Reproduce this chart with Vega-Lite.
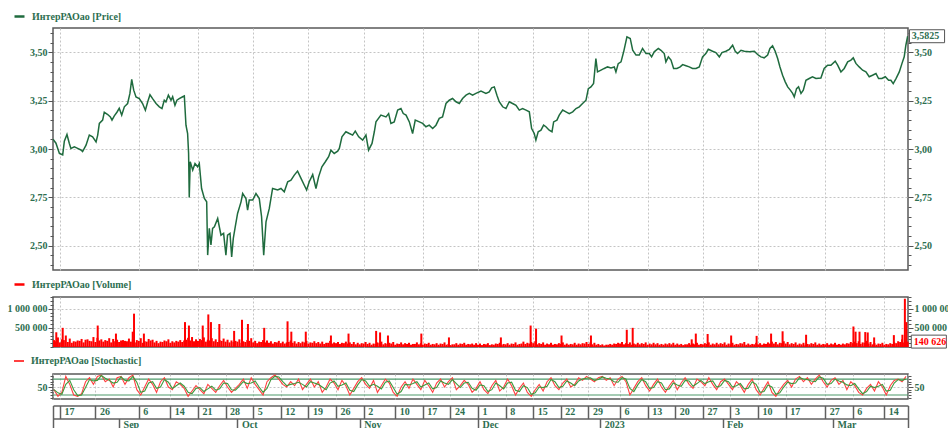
{
"$schema":"https://vega.github.io/schema/vega-lite/v6.json",
"background":"white",
"padding":{"left":6,"top":9,"right":0,"bottom":0},
"autosize":{"type":"pad"},
"config":{
 "view":{"stroke":"#5a5a5a","strokeWidth":1.5},
 "font":"Liberation Serif",
 "axis":{"labelFont":"Liberation Serif","labelFontWeight":"bold","labelFontSize":10,"labelColor":"#2d6e50","tickColor":"#555555","domainColor":"#555555","labelOverlap":false,"labelFlush":false,"labelBound":false},
 "legend":{"labelFont":"Liberation Serif","labelFontWeight":"bold","labelFontSize":10,"labelColor":"#2d6e50"}
},
"datasets":{
"price":[
{"t":"2022-08-15T06:00","v":3.051},{"t":"2022-08-16T00:00","v":3.03},{"t":"2022-08-16T21:00","v":2.977},{"t":"2022-08-17T17:00","v":2.97},{"t":"2022-08-18T03:00","v":3.04},{"t":"2022-08-18T19:00","v":3.075},{"t":"2022-08-19T09:00","v":3.03},{"t":"2022-08-19T19:00","v":3.003},{"t":"2022-08-20T16:00","v":3.011},{"t":"2022-08-21T12:00","v":3.003},{"t":"2022-08-22T08:00","v":2.995},{"t":"2022-08-22T18:00","v":2.987},{"t":"2022-08-23T15:00","v":3.02},{"t":"2022-08-24T11:00","v":3.072},{"t":"2022-08-25T07:00","v":3.063},{"t":"2022-08-26T04:00","v":3.037},{"t":"2022-08-26T14:00","v":3.072},{"t":"2022-08-27T00:00","v":3.132},{"t":"2022-08-27T20:00","v":3.149},{"t":"2022-08-28T06:00","v":3.19},{"t":"2022-08-29T03:00","v":3.178},{"t":"2022-08-29T19:00","v":3.166},{"t":"2022-08-30T05:00","v":3.149},{"t":"2022-08-30T19:00","v":3.171},{"t":"2022-08-31T11:00","v":3.19},
{"t":"2022-09-01T01:00","v":3.21},{"t":"2022-09-01T16:00","v":3.175},{"t":"2022-09-02T08:00","v":3.218},{"t":"2022-09-03T04:00","v":3.235},{"t":"2022-09-03T18:00","v":3.287},{"t":"2022-09-04T05:00","v":3.36},{"t":"2022-09-04T17:00","v":3.304},{"t":"2022-09-05T07:00","v":3.269},{"t":"2022-09-06T03:00","v":3.261},{"t":"2022-09-06T23:00","v":3.235},{"t":"2022-09-07T16:00","v":3.2},{"t":"2022-09-08T06:00","v":3.243},{"t":"2022-09-08T20:00","v":3.28},{"t":"2022-09-09T12:00","v":3.26},{"t":"2022-09-10T09:00","v":3.235},{"t":"2022-09-11T05:00","v":3.218},{"t":"2022-09-11T21:00","v":3.209},{"t":"2022-09-12T11:00","v":3.252},{"t":"2022-09-12T21:00","v":3.243},{"t":"2022-09-13T12:00","v":3.278},{"t":"2022-09-14T04:00","v":3.252},{"t":"2022-09-14T14:00","v":3.27},{"t":"2022-09-15T04:00","v":3.226},{"t":"2022-09-15T16:00","v":3.252},{"t":"2022-09-16T06:00","v":3.26},{"t":"2022-09-17T03:00","v":3.27},{"t":"2022-09-17T13:00","v":3.274},{"t":"2022-09-17T23:00","v":3.123},{"t":"2022-09-18T09:00","v":3.08},{"t":"2022-09-18T15:00","v":2.977},{"t":"2022-09-18T19:00","v":2.75},{"t":"2022-09-19T01:00","v":2.934},{"t":"2022-09-19T16:00","v":2.891},{"t":"2022-09-20T06:00","v":2.925},{"t":"2022-09-20T22:00","v":2.908},{"t":"2022-09-21T08:00","v":2.925},{"t":"2022-09-21T22:00","v":2.796},{"t":"2022-09-22T15:00","v":2.745},{"t":"2022-09-23T05:00","v":2.727},{"t":"2022-09-23T11:00","v":2.452},{"t":"2022-09-23T21:00","v":2.59},{"t":"2022-09-24T07:00","v":2.504},{"t":"2022-09-24T17:00","v":2.59},{"t":"2022-09-25T04:00","v":2.598},{"t":"2022-09-26T00:00","v":2.641},{"t":"2022-09-26T20:00","v":2.555},{"t":"2022-09-27T12:00","v":2.564},{"t":"2022-09-28T02:00","v":2.452},{"t":"2022-09-28T12:00","v":2.555},{"t":"2022-09-29T03:00","v":2.564},{"t":"2022-09-29T13:00","v":2.443},{"t":"2022-09-29T23:00","v":2.538},{"t":"2022-09-30T11:00","v":2.599},
{"t":"2022-10-01T01:00","v":2.667},{"t":"2022-10-01T22:00","v":2.727},{"t":"2022-10-02T08:00","v":2.77},{"t":"2022-10-03T04:00","v":2.744},{"t":"2022-10-03T14:00","v":2.684},{"t":"2022-10-04T00:00","v":2.736},{"t":"2022-10-04T21:00","v":2.736},{"t":"2022-10-05T17:00","v":2.77},{"t":"2022-10-06T13:00","v":2.744},{"t":"2022-10-07T03:00","v":2.65},{"t":"2022-10-07T16:00","v":2.452},{"t":"2022-10-08T06:00","v":2.624},{"t":"2022-10-09T02:00","v":2.693},{"t":"2022-10-09T22:00","v":2.796},{"t":"2022-10-11T05:00","v":2.788},{"t":"2022-10-12T01:00","v":2.796},{"t":"2022-10-12T21:00","v":2.779},{"t":"2022-10-13T18:00","v":2.831},{"t":"2022-10-14T14:00","v":2.839},{"t":"2022-10-15T10:00","v":2.865},{"t":"2022-10-16T06:00","v":2.886},{"t":"2022-10-17T03:00","v":2.848},{"t":"2022-10-17T23:00","v":2.813},{"t":"2022-10-18T13:00","v":2.788},{"t":"2022-10-19T05:00","v":2.831},{"t":"2022-10-20T02:00","v":2.868},{"t":"2022-10-20T22:00","v":2.796},{"t":"2022-10-21T14:00","v":2.856},{"t":"2022-10-22T10:00","v":2.908},{"t":"2022-10-23T07:00","v":2.934},{"t":"2022-10-24T03:00","v":2.96},{"t":"2022-10-24T17:00","v":2.994},{"t":"2022-10-25T13:00","v":2.977},{"t":"2022-10-26T10:00","v":2.989},{"t":"2022-10-26T20:00","v":3.003},{"t":"2022-10-27T12:00","v":3.063},{"t":"2022-10-28T12:00","v":3.089},{"t":"2022-10-29T09:00","v":3.08},{"t":"2022-10-30T05:00","v":3.072},{"t":"2022-10-30T21:00","v":3.092},{"t":"2022-10-31T18:00","v":3.063},
{"t":"2022-11-01T18:00","v":3.046},{"t":"2022-11-02T14:00","v":3.072},{"t":"2022-11-03T06:00","v":2.994},{"t":"2022-11-04T03:00","v":3.029},{"t":"2022-11-04T17:00","v":3.089},{"t":"2022-11-05T03:00","v":3.14},{"t":"2022-11-06T09:00","v":3.175},{"t":"2022-11-07T16:00","v":3.166},{"t":"2022-11-08T08:00","v":3.183},{"t":"2022-11-08T22:00","v":3.132},{"t":"2022-11-09T18:00","v":3.14},{"t":"2022-11-10T15:00","v":3.201},{"t":"2022-11-11T11:00","v":3.209},{"t":"2022-11-12T01:00","v":3.183},{"t":"2022-11-12T18:00","v":3.175},{"t":"2022-11-13T14:00","v":3.14},{"t":"2022-11-14T10:00","v":3.08},{"t":"2022-11-15T02:00","v":3.149},{"t":"2022-11-16T03:00","v":3.14},{"t":"2022-11-16T23:00","v":3.132},{"t":"2022-11-17T19:00","v":3.115},{"t":"2022-11-18T15:00","v":3.123},{"t":"2022-11-19T12:00","v":3.106},{"t":"2022-11-20T08:00","v":3.123},{"t":"2022-11-21T04:00","v":3.158},{"t":"2022-11-22T00:00","v":3.166},{"t":"2022-11-22T21:00","v":3.235},{"t":"2022-11-23T17:00","v":3.252},{"t":"2022-11-24T13:00","v":3.261},{"t":"2022-11-25T10:00","v":3.244},{"t":"2022-11-26T06:00","v":3.235},{"t":"2022-11-27T02:00","v":3.261},{"t":"2022-11-27T23:00","v":3.278},{"t":"2022-11-28T19:00","v":3.287},{"t":"2022-11-29T15:00","v":3.278},{"t":"2022-11-30T11:00","v":3.287},
{"t":"2022-12-01T18:00","v":3.299},{"t":"2022-12-03T00:00","v":3.287},{"t":"2022-12-03T20:00","v":3.295},{"t":"2022-12-04T11:00","v":3.316},{"t":"2022-12-05T03:00","v":3.321},{"t":"2022-12-05T19:00","v":3.278},{"t":"2022-12-06T09:00","v":3.244},{"t":"2022-12-07T06:00","v":3.218},{"t":"2022-12-08T02:00","v":3.209},{"t":"2022-12-08T22:00","v":3.244},{"t":"2022-12-09T18:00","v":3.235},{"t":"2022-12-10T15:00","v":3.226},{"t":"2022-12-11T11:00","v":3.201},{"t":"2022-12-12T07:00","v":3.209},{"t":"2022-12-13T04:00","v":3.201},{"t":"2022-12-14T00:00","v":3.192},{"t":"2022-12-14T14:00","v":3.106},{"t":"2022-12-15T06:00","v":3.08},{"t":"2022-12-15T16:00","v":3.046},{"t":"2022-12-16T06:00","v":3.089},{"t":"2022-12-16T23:00","v":3.097},{"t":"2022-12-17T15:00","v":3.123},{"t":"2022-12-18T05:00","v":3.115},{"t":"2022-12-19T01:00","v":3.097},{"t":"2022-12-19T18:00","v":3.089},{"t":"2022-12-20T04:00","v":3.14},{"t":"2022-12-21T00:00","v":3.149},{"t":"2022-12-21T14:00","v":3.175},{"t":"2022-12-22T11:00","v":3.201},{"t":"2022-12-23T07:00","v":3.192},{"t":"2022-12-24T03:00","v":3.183},{"t":"2022-12-25T00:00","v":3.192},{"t":"2022-12-25T20:00","v":3.209},{"t":"2022-12-26T16:00","v":3.218},{"t":"2022-12-27T12:00","v":3.235},{"t":"2022-12-28T09:00","v":3.252},{"t":"2022-12-28T23:00","v":3.312},{"t":"2022-12-29T15:00","v":3.321},{"t":"2022-12-30T07:00","v":3.338},{"t":"2022-12-30T21:00","v":3.467},{"t":"2022-12-31T07:00","v":3.398},
{"t":"2023-01-01T04:00","v":3.407},{"t":"2023-01-02T00:00","v":3.416},{"t":"2023-01-02T20:00","v":3.424},{"t":"2023-01-03T17:00","v":3.419},{"t":"2023-01-04T13:00","v":3.424},{"t":"2023-01-04T23:00","v":3.398},{"t":"2023-01-05T13:00","v":3.441},{"t":"2023-01-06T06:00","v":3.45},{"t":"2023-01-06T22:00","v":3.502},{"t":"2023-01-07T18:00","v":3.579},{"t":"2023-01-08T14:00","v":3.571},{"t":"2023-01-09T05:00","v":3.51},{"t":"2023-01-10T01:00","v":3.485},{"t":"2023-01-10T21:00","v":3.485},{"t":"2023-01-11T17:00","v":3.519},{"t":"2023-01-12T14:00","v":3.493},{"t":"2023-01-13T10:00","v":3.493},{"t":"2023-01-14T00:00","v":3.476},{"t":"2023-01-14T16:00","v":3.502},{"t":"2023-01-15T17:00","v":3.519},{"t":"2023-01-16T09:00","v":3.51},{"t":"2023-01-17T05:00","v":3.493},{"t":"2023-01-17T15:00","v":3.45},{"t":"2023-01-18T06:00","v":3.476},{"t":"2023-01-18T22:00","v":3.459},{"t":"2023-01-19T14:00","v":3.416},{"t":"2023-01-20T10:00","v":3.416},{"t":"2023-01-21T06:00","v":3.424},{"t":"2023-01-21T21:00","v":3.436},{"t":"2023-01-22T17:00","v":3.43},{"t":"2023-01-23T13:00","v":3.424},{"t":"2023-01-24T09:00","v":3.416},{"t":"2023-01-25T06:00","v":3.416},{"t":"2023-01-26T02:00","v":3.424},{"t":"2023-01-26T22:00","v":3.476},{"t":"2023-01-27T18:00","v":3.493},{"t":"2023-01-28T09:00","v":3.515},{"t":"2023-01-29T11:00","v":3.505},{"t":"2023-01-30T07:00","v":3.498},{"t":"2023-01-31T04:00","v":3.476},{"t":"2023-01-31T20:00","v":3.498},
{"t":"2023-02-01T20:00","v":3.505},{"t":"2023-02-02T17:00","v":3.515},{"t":"2023-02-03T13:00","v":3.536},{"t":"2023-02-04T05:00","v":3.505},{"t":"2023-02-04T19:00","v":3.493},{"t":"2023-02-05T16:00","v":3.51},{"t":"2023-02-06T12:00","v":3.505},{"t":"2023-02-07T18:00","v":3.502},{"t":"2023-02-09T01:00","v":3.505},{"t":"2023-02-09T21:00","v":3.488},{"t":"2023-02-10T17:00","v":3.476},{"t":"2023-02-11T13:00","v":3.471},{"t":"2023-02-12T10:00","v":3.485},{"t":"2023-02-13T00:00","v":3.519},{"t":"2023-02-13T16:00","v":3.533},{"t":"2023-02-14T08:00","v":3.505},{"t":"2023-02-14T23:00","v":3.467},{"t":"2023-02-15T13:00","v":3.424},{"t":"2023-02-16T05:00","v":3.381},{"t":"2023-02-16T21:00","v":3.347},{"t":"2023-02-17T12:00","v":3.321},{"t":"2023-02-18T04:00","v":3.304},{"t":"2023-02-18T18:00","v":3.287},{"t":"2023-02-19T04:00","v":3.269},{"t":"2023-02-19T18:00","v":3.312},{"t":"2023-02-20T06:00","v":3.321},{"t":"2023-02-20T21:00","v":3.287},{"t":"2023-02-21T11:00","v":3.304},{"t":"2023-02-22T03:00","v":3.355},{"t":"2023-02-22T23:00","v":3.364},{"t":"2023-02-23T19:00","v":3.373},{"t":"2023-02-24T16:00","v":3.364},{"t":"2023-02-25T22:00","v":3.367},{"t":"2023-02-26T18:00","v":3.416},{"t":"2023-02-27T15:00","v":3.433},{"t":"2023-02-28T11:00","v":3.433},
{"t":"2023-03-01T13:00","v":3.454},{"t":"2023-03-02T04:00","v":3.433},{"t":"2023-03-03T00:00","v":3.398},{"t":"2023-03-03T20:00","v":3.416},{"t":"2023-03-04T17:00","v":3.45},{"t":"2023-03-05T13:00","v":3.459},{"t":"2023-03-06T03:00","v":3.471},{"t":"2023-03-06T19:00","v":3.442},{"t":"2023-03-07T15:00","v":3.424},{"t":"2023-03-08T12:00","v":3.407},{"t":"2023-03-09T08:00","v":3.398},{"t":"2023-03-10T04:00","v":3.373},{"t":"2023-03-11T00:00","v":3.381},{"t":"2023-03-11T21:00","v":3.39},{"t":"2023-03-12T13:00","v":3.364},{"t":"2023-03-13T09:00","v":3.364},{"t":"2023-03-14T06:00","v":3.373},{"t":"2023-03-15T02:00","v":3.355},{"t":"2023-03-15T16:00","v":3.355},{"t":"2023-03-16T06:00","v":3.338},{"t":"2023-03-16T23:00","v":3.364},{"t":"2023-03-17T19:00","v":3.398},{"t":"2023-03-18T11:00","v":3.441},{"t":"2023-03-19T01:00","v":3.476},{"t":"2023-03-19T11:00","v":3.536},{"t":"2023-03-19T22:00","v":3.5825}
],
"vol":[
{"t":"2022-08-15T12:00","v":180000},{"t":"2022-08-16T12:00","v":250000},{"t":"2022-08-17T12:00","v":200000},{"t":"2022-08-18T12:00","v":300000},{"t":"2022-08-19T12:00","v":220000},{"t":"2022-08-20T12:00","v":150000},{"t":"2022-08-21T12:00","v":170000},{"t":"2022-08-22T12:00","v":210000},{"t":"2022-08-23T12:00","v":190000},{"t":"2022-08-24T12:00","v":160000},{"t":"2022-08-25T12:00","v":260000},{"t":"2022-08-26T12:00","v":240000},{"t":"2022-08-27T12:00","v":200000},{"t":"2022-08-28T12:00","v":180000},{"t":"2022-08-29T12:00","v":230000},{"t":"2022-08-30T12:00","v":210000},{"t":"2022-08-31T12:00","v":190000},
{"t":"2022-09-01T12:00","v":170000},{"t":"2022-09-02T12:00","v":160000},{"t":"2022-09-03T12:00","v":220000},{"t":"2022-09-04T12:00","v":200000},{"t":"2022-09-05T12:00","v":180000},{"t":"2022-09-06T12:00","v":230000},{"t":"2022-09-07T12:00","v":150000},{"t":"2022-09-08T12:00","v":210000},{"t":"2022-09-09T12:00","v":190000},{"t":"2022-09-10T12:00","v":160000},{"t":"2022-09-11T12:00","v":140000},{"t":"2022-09-12T12:00","v":170000},{"t":"2022-09-13T12:00","v":200000},{"t":"2022-09-14T12:00","v":150000},{"t":"2022-09-15T12:00","v":160000},{"t":"2022-09-16T12:00","v":180000},{"t":"2022-09-17T12:00","v":170000},{"t":"2022-09-18T12:00","v":240000},{"t":"2022-09-19T12:00","v":260000},{"t":"2022-09-20T12:00","v":200000},{"t":"2022-09-21T12:00","v":210000},{"t":"2022-09-22T12:00","v":250000},{"t":"2022-09-23T12:00","v":190000},{"t":"2022-09-24T12:00","v":230000},{"t":"2022-09-25T12:00","v":200000},{"t":"2022-09-26T12:00","v":180000},{"t":"2022-09-27T12:00","v":220000},{"t":"2022-09-28T12:00","v":190000},{"t":"2022-09-29T12:00","v":170000},{"t":"2022-09-30T12:00","v":160000},
{"t":"2022-10-01T12:00","v":200000},{"t":"2022-10-02T12:00","v":150000},{"t":"2022-10-03T12:00","v":180000},{"t":"2022-10-04T12:00","v":230000},{"t":"2022-10-05T12:00","v":160000},{"t":"2022-10-06T12:00","v":140000},{"t":"2022-10-07T12:00","v":180000},{"t":"2022-10-08T12:00","v":170000},{"t":"2022-10-09T12:00","v":150000},{"t":"2022-10-10T12:00","v":130000},{"t":"2022-10-11T12:00","v":160000},{"t":"2022-10-12T12:00","v":140000},{"t":"2022-10-13T12:00","v":120000},{"t":"2022-10-14T12:00","v":170000},{"t":"2022-10-15T12:00","v":150000},{"t":"2022-10-16T12:00","v":130000},{"t":"2022-10-17T12:00","v":140000},{"t":"2022-10-18T12:00","v":160000},{"t":"2022-10-19T12:00","v":120000},{"t":"2022-10-20T12:00","v":150000},{"t":"2022-10-21T12:00","v":130000},{"t":"2022-10-22T12:00","v":140000},{"t":"2022-10-23T12:00","v":110000},{"t":"2022-10-24T12:00","v":160000},{"t":"2022-10-25T12:00","v":120000},{"t":"2022-10-26T12:00","v":130000},{"t":"2022-10-27T12:00","v":110000},{"t":"2022-10-28T12:00","v":140000},{"t":"2022-10-29T12:00","v":120000},{"t":"2022-10-30T12:00","v":130000},{"t":"2022-10-31T12:00","v":110000},
{"t":"2022-11-01T12:00","v":100000},{"t":"2022-11-02T12:00","v":130000},{"t":"2022-11-03T12:00","v":110000},{"t":"2022-11-04T12:00","v":90000},{"t":"2022-11-05T12:00","v":120000},{"t":"2022-11-06T12:00","v":140000},{"t":"2022-11-07T12:00","v":100000},{"t":"2022-11-08T12:00","v":110000},{"t":"2022-11-09T12:00","v":130000},{"t":"2022-11-10T12:00","v":90000},{"t":"2022-11-11T12:00","v":120000},{"t":"2022-11-12T12:00","v":100000},{"t":"2022-11-13T12:00","v":110000},{"t":"2022-11-14T12:00","v":80000},{"t":"2022-11-15T12:00","v":120000},{"t":"2022-11-16T12:00","v":100000},{"t":"2022-11-17T12:00","v":90000},{"t":"2022-11-18T12:00","v":110000},{"t":"2022-11-19T12:00","v":80000},{"t":"2022-11-20T12:00","v":100000},{"t":"2022-11-21T12:00","v":90000},{"t":"2022-11-22T12:00","v":120000},{"t":"2022-11-23T12:00","v":80000},{"t":"2022-11-24T12:00","v":70000},{"t":"2022-11-25T12:00","v":100000},{"t":"2022-11-26T12:00","v":90000},{"t":"2022-11-27T12:00","v":110000},{"t":"2022-11-28T12:00","v":80000},{"t":"2022-11-29T12:00","v":90000},{"t":"2022-11-30T12:00","v":100000},
{"t":"2022-12-01T12:00","v":90000},{"t":"2022-12-02T12:00","v":80000},{"t":"2022-12-03T12:00","v":100000},{"t":"2022-12-04T12:00","v":70000},{"t":"2022-12-05T12:00","v":90000},{"t":"2022-12-06T12:00","v":110000},{"t":"2022-12-07T12:00","v":80000},{"t":"2022-12-08T12:00","v":100000},{"t":"2022-12-09T12:00","v":90000},{"t":"2022-12-10T12:00","v":120000},{"t":"2022-12-11T12:00","v":80000},{"t":"2022-12-12T12:00","v":140000},{"t":"2022-12-13T12:00","v":110000},{"t":"2022-12-14T12:00","v":130000},{"t":"2022-12-15T12:00","v":150000},{"t":"2022-12-16T12:00","v":100000},{"t":"2022-12-17T12:00","v":120000},{"t":"2022-12-18T12:00","v":90000},{"t":"2022-12-19T12:00","v":110000},{"t":"2022-12-20T12:00","v":80000},{"t":"2022-12-21T12:00","v":100000},{"t":"2022-12-22T12:00","v":120000},{"t":"2022-12-23T12:00","v":90000},{"t":"2022-12-24T12:00","v":80000},{"t":"2022-12-25T12:00","v":110000},{"t":"2022-12-26T12:00","v":90000},{"t":"2022-12-27T12:00","v":100000},{"t":"2022-12-28T12:00","v":130000},{"t":"2022-12-29T12:00","v":120000},{"t":"2022-12-30T12:00","v":110000},{"t":"2022-12-31T12:00","v":80000},
{"t":"2023-01-01T12:00","v":70000},{"t":"2023-01-02T12:00","v":60000},{"t":"2023-01-03T12:00","v":80000},{"t":"2023-01-04T12:00","v":90000},{"t":"2023-01-05T12:00","v":110000},{"t":"2023-01-06T12:00","v":130000},{"t":"2023-01-07T12:00","v":100000},{"t":"2023-01-08T12:00","v":120000},{"t":"2023-01-09T12:00","v":90000},{"t":"2023-01-10T12:00","v":110000},{"t":"2023-01-11T12:00","v":100000},{"t":"2023-01-12T12:00","v":120000},{"t":"2023-01-13T12:00","v":90000},{"t":"2023-01-14T12:00","v":110000},{"t":"2023-01-15T12:00","v":100000},{"t":"2023-01-16T12:00","v":80000},{"t":"2023-01-17T12:00","v":90000},{"t":"2023-01-18T12:00","v":100000},{"t":"2023-01-19T12:00","v":110000},{"t":"2023-01-20T12:00","v":90000},{"t":"2023-01-21T12:00","v":80000},{"t":"2023-01-22T12:00","v":70000},{"t":"2023-01-23T12:00","v":100000},{"t":"2023-01-24T12:00","v":90000},{"t":"2023-01-25T12:00","v":110000},{"t":"2023-01-26T12:00","v":80000},{"t":"2023-01-27T12:00","v":100000},{"t":"2023-01-28T12:00","v":120000},{"t":"2023-01-29T12:00","v":90000},{"t":"2023-01-30T12:00","v":110000},{"t":"2023-01-31T12:00","v":100000},
{"t":"2023-02-01T12:00","v":120000},{"t":"2023-02-02T12:00","v":90000},{"t":"2023-02-03T12:00","v":110000},{"t":"2023-02-04T12:00","v":80000},{"t":"2023-02-05T12:00","v":100000},{"t":"2023-02-06T12:00","v":130000},{"t":"2023-02-07T12:00","v":90000},{"t":"2023-02-08T12:00","v":80000},{"t":"2023-02-09T12:00","v":110000},{"t":"2023-02-10T12:00","v":100000},{"t":"2023-02-11T12:00","v":90000},{"t":"2023-02-12T12:00","v":120000},{"t":"2023-02-13T12:00","v":140000},{"t":"2023-02-14T12:00","v":130000},{"t":"2023-02-15T12:00","v":110000},{"t":"2023-02-16T12:00","v":150000},{"t":"2023-02-17T12:00","v":130000},{"t":"2023-02-18T12:00","v":100000},{"t":"2023-02-19T12:00","v":120000},{"t":"2023-02-20T12:00","v":90000},{"t":"2023-02-21T12:00","v":110000},{"t":"2023-02-22T12:00","v":80000},{"t":"2023-02-23T12:00","v":100000},{"t":"2023-02-24T12:00","v":120000},{"t":"2023-02-25T12:00","v":90000},{"t":"2023-02-26T12:00","v":80000},{"t":"2023-02-27T12:00","v":100000},{"t":"2023-02-28T12:00","v":90000},
{"t":"2023-03-01T12:00","v":110000},{"t":"2023-03-02T12:00","v":80000},{"t":"2023-03-03T12:00","v":90000},{"t":"2023-03-04T12:00","v":100000},{"t":"2023-03-05T12:00","v":130000},{"t":"2023-03-06T12:00","v":140000},{"t":"2023-03-07T12:00","v":150000},{"t":"2023-03-08T12:00","v":120000},{"t":"2023-03-09T12:00","v":160000},{"t":"2023-03-10T12:00","v":130000},{"t":"2023-03-11T12:00","v":100000},{"t":"2023-03-12T12:00","v":90000},{"t":"2023-03-13T12:00","v":110000},{"t":"2023-03-14T12:00","v":80000},{"t":"2023-03-15T12:00","v":100000},{"t":"2023-03-16T12:00","v":120000},{"t":"2023-03-17T12:00","v":150000},{"t":"2023-03-18T12:00","v":200000},{"t":"2023-03-19T08:00","v":170000},
{"t":"2022-08-16T00:00","v":150000},{"t":"2022-08-17T00:00","v":120000},{"t":"2022-08-18T00:00","v":180000},{"t":"2022-08-19T00:00","v":130000},{"t":"2022-08-20T00:00","v":110000},{"t":"2022-08-21T00:00","v":140000},{"t":"2022-08-22T00:00","v":160000},{"t":"2022-08-23T00:00","v":120000},{"t":"2022-08-24T00:00","v":200000},{"t":"2022-08-25T00:00","v":150000},{"t":"2022-08-26T00:00","v":130000},{"t":"2022-08-27T00:00","v":170000},{"t":"2022-08-28T00:00","v":140000},{"t":"2022-08-29T00:00","v":160000},{"t":"2022-08-30T00:00","v":120000},{"t":"2022-08-31T00:00","v":150000},
{"t":"2022-09-01T00:00","v":130000},{"t":"2022-09-02T00:00","v":180000},{"t":"2022-09-03T00:00","v":150000},{"t":"2022-09-04T00:00","v":140000},{"t":"2022-09-05T00:00","v":120000},{"t":"2022-09-06T00:00","v":160000},{"t":"2022-09-07T00:00","v":110000},{"t":"2022-09-08T00:00","v":140000},{"t":"2022-09-09T00:00","v":170000},{"t":"2022-09-10T00:00","v":120000},{"t":"2022-09-11T00:00","v":100000},{"t":"2022-09-12T00:00","v":130000},{"t":"2022-09-13T00:00","v":150000},{"t":"2022-09-14T00:00","v":110000},{"t":"2022-09-15T00:00","v":120000},{"t":"2022-09-16T00:00","v":140000},{"t":"2022-09-17T00:00","v":130000},{"t":"2022-09-18T00:00","v":190000},{"t":"2022-09-19T00:00","v":170000},{"t":"2022-09-20T00:00","v":150000},{"t":"2022-09-21T00:00","v":160000},{"t":"2022-09-22T00:00","v":180000},{"t":"2022-09-23T00:00","v":140000},{"t":"2022-09-24T00:00","v":170000},{"t":"2022-09-25T00:00","v":150000},{"t":"2022-09-26T00:00","v":130000},{"t":"2022-09-27T00:00","v":160000},{"t":"2022-09-28T00:00","v":140000},{"t":"2022-09-29T00:00","v":120000},{"t":"2022-09-30T00:00","v":130000},
{"t":"2022-10-01T00:00","v":140000},{"t":"2022-10-02T00:00","v":110000},{"t":"2022-10-03T00:00","v":130000},{"t":"2022-10-04T00:00","v":160000},{"t":"2022-10-05T00:00","v":120000},{"t":"2022-10-06T00:00","v":100000},{"t":"2022-10-07T00:00","v":130000},{"t":"2022-10-08T00:00","v":120000},{"t":"2022-10-09T00:00","v":110000},{"t":"2022-10-10T00:00","v":90000},{"t":"2022-10-11T00:00","v":120000},{"t":"2022-10-12T00:00","v":100000},{"t":"2022-10-13T00:00","v":90000},{"t":"2022-10-14T00:00","v":130000},{"t":"2022-10-15T00:00","v":110000},{"t":"2022-10-16T00:00","v":90000},{"t":"2022-10-17T00:00","v":100000},{"t":"2022-10-18T00:00","v":120000},{"t":"2022-10-19T00:00","v":90000},{"t":"2022-10-20T00:00","v":110000},{"t":"2022-10-21T00:00","v":100000},{"t":"2022-10-22T00:00","v":90000},{"t":"2022-10-23T00:00","v":80000},{"t":"2022-10-24T00:00","v":110000},{"t":"2022-10-25T00:00","v":90000},{"t":"2022-10-26T00:00","v":100000},{"t":"2022-10-27T00:00","v":80000},{"t":"2022-10-28T00:00","v":100000},{"t":"2022-10-29T00:00","v":90000},{"t":"2022-10-30T00:00","v":80000},{"t":"2022-10-31T00:00","v":70000},
{"t":"2022-11-01T00:00","v":70000},{"t":"2022-11-02T00:00","v":90000},{"t":"2022-11-03T00:00","v":80000},{"t":"2022-11-04T00:00","v":60000},{"t":"2022-11-05T00:00","v":80000},{"t":"2022-11-06T00:00","v":100000},{"t":"2022-11-07T00:00","v":70000},{"t":"2022-11-08T00:00","v":80000},{"t":"2022-11-09T00:00","v":90000},{"t":"2022-11-10T00:00","v":60000},{"t":"2022-11-11T00:00","v":80000},{"t":"2022-11-12T00:00","v":70000},{"t":"2022-11-13T00:00","v":80000},{"t":"2022-11-14T00:00","v":60000},{"t":"2022-11-15T00:00","v":80000},{"t":"2022-11-16T00:00","v":70000},{"t":"2022-11-17T00:00","v":60000},{"t":"2022-11-18T00:00","v":80000},{"t":"2022-11-19T00:00","v":60000},{"t":"2022-11-20T00:00","v":70000},{"t":"2022-11-21T00:00","v":60000},{"t":"2022-11-22T00:00","v":80000},{"t":"2022-11-23T00:00","v":60000},{"t":"2022-11-24T00:00","v":50000},{"t":"2022-11-25T00:00","v":70000},{"t":"2022-11-26T00:00","v":60000},{"t":"2022-11-27T00:00","v":80000},{"t":"2022-11-28T00:00","v":60000},{"t":"2022-11-29T00:00","v":70000},{"t":"2022-11-30T00:00","v":60000},
{"t":"2022-12-01T00:00","v":60000},{"t":"2022-12-02T00:00","v":50000},{"t":"2022-12-03T00:00","v":70000},{"t":"2022-12-04T00:00","v":50000},{"t":"2022-12-05T00:00","v":60000},{"t":"2022-12-06T00:00","v":80000},{"t":"2022-12-07T00:00","v":60000},{"t":"2022-12-08T00:00","v":70000},{"t":"2022-12-09T00:00","v":60000},{"t":"2022-12-10T00:00","v":80000},{"t":"2022-12-11T00:00","v":60000},{"t":"2022-12-12T00:00","v":90000},{"t":"2022-12-13T00:00","v":80000},{"t":"2022-12-14T00:00","v":90000},{"t":"2022-12-15T00:00","v":100000},{"t":"2022-12-16T00:00","v":70000},{"t":"2022-12-17T00:00","v":80000},{"t":"2022-12-18T00:00","v":60000},{"t":"2022-12-19T00:00","v":70000},{"t":"2022-12-20T00:00","v":60000},{"t":"2022-12-21T00:00","v":70000},{"t":"2022-12-22T00:00","v":80000},{"t":"2022-12-23T00:00","v":60000},{"t":"2022-12-24T00:00","v":60000},{"t":"2022-12-25T00:00","v":70000},{"t":"2022-12-26T00:00","v":60000},{"t":"2022-12-27T00:00","v":70000},{"t":"2022-12-28T00:00","v":90000},{"t":"2022-12-29T00:00","v":80000},{"t":"2022-12-30T00:00","v":70000},{"t":"2022-12-31T00:00","v":60000},
{"t":"2023-01-01T00:00","v":50000},{"t":"2023-01-02T00:00","v":40000},{"t":"2023-01-03T00:00","v":60000},{"t":"2023-01-04T00:00","v":60000},{"t":"2023-01-05T00:00","v":80000},{"t":"2023-01-06T00:00","v":90000},{"t":"2023-01-07T00:00","v":70000},{"t":"2023-01-08T00:00","v":80000},{"t":"2023-01-09T00:00","v":60000},{"t":"2023-01-10T00:00","v":70000},{"t":"2023-01-11T00:00","v":70000},{"t":"2023-01-12T00:00","v":80000},{"t":"2023-01-13T00:00","v":60000},{"t":"2023-01-14T00:00","v":70000},{"t":"2023-01-15T00:00","v":70000},{"t":"2023-01-16T00:00","v":60000},{"t":"2023-01-17T00:00","v":60000},{"t":"2023-01-18T00:00","v":70000},{"t":"2023-01-19T00:00","v":70000},{"t":"2023-01-20T00:00","v":60000},{"t":"2023-01-21T00:00","v":60000},{"t":"2023-01-22T00:00","v":50000},{"t":"2023-01-23T00:00","v":70000},{"t":"2023-01-24T00:00","v":60000},{"t":"2023-01-25T00:00","v":70000},{"t":"2023-01-26T00:00","v":60000},{"t":"2023-01-27T00:00","v":70000},{"t":"2023-01-28T00:00","v":80000},{"t":"2023-01-29T00:00","v":60000},{"t":"2023-01-30T00:00","v":70000},{"t":"2023-01-31T00:00","v":70000},
{"t":"2023-02-01T00:00","v":80000},{"t":"2023-02-02T00:00","v":60000},{"t":"2023-02-03T00:00","v":70000},{"t":"2023-02-04T00:00","v":60000},{"t":"2023-02-05T00:00","v":70000},{"t":"2023-02-06T00:00","v":90000},{"t":"2023-02-07T00:00","v":60000},{"t":"2023-02-08T00:00","v":60000},{"t":"2023-02-09T00:00","v":70000},{"t":"2023-02-10T00:00","v":70000},{"t":"2023-02-11T00:00","v":60000},{"t":"2023-02-12T00:00","v":80000},{"t":"2023-02-13T00:00","v":90000},{"t":"2023-02-14T00:00","v":90000},{"t":"2023-02-15T00:00","v":70000},{"t":"2023-02-16T00:00","v":100000},{"t":"2023-02-17T00:00","v":90000},{"t":"2023-02-18T00:00","v":70000},{"t":"2023-02-19T00:00","v":80000},{"t":"2023-02-20T00:00","v":60000},{"t":"2023-02-21T00:00","v":70000},{"t":"2023-02-22T00:00","v":60000},{"t":"2023-02-23T00:00","v":70000},{"t":"2023-02-24T00:00","v":80000},{"t":"2023-02-25T00:00","v":60000},{"t":"2023-02-26T00:00","v":60000},{"t":"2023-02-27T00:00","v":70000},{"t":"2023-02-28T00:00","v":60000},
{"t":"2023-03-01T00:00","v":70000},{"t":"2023-03-02T00:00","v":60000},{"t":"2023-03-03T00:00","v":60000},{"t":"2023-03-04T00:00","v":70000},{"t":"2023-03-05T00:00","v":90000},{"t":"2023-03-06T00:00","v":100000},{"t":"2023-03-07T00:00","v":100000},{"t":"2023-03-08T00:00","v":80000},{"t":"2023-03-09T00:00","v":110000},{"t":"2023-03-10T00:00","v":90000},{"t":"2023-03-11T00:00","v":70000},{"t":"2023-03-12T00:00","v":60000},{"t":"2023-03-13T00:00","v":80000},{"t":"2023-03-14T00:00","v":60000},{"t":"2023-03-15T00:00","v":70000},{"t":"2023-03-16T00:00","v":80000},{"t":"2023-03-17T00:00","v":100000},{"t":"2023-03-18T00:00","v":130000},{"t":"2023-03-19T00:00","v":120000},
{"t":"2022-08-16T02:00","v":385000},{"t":"2022-08-17T17:00","v":500000},{"t":"2022-08-26T14:00","v":560000},{"t":"2022-08-31T05:00","v":350000},{"t":"2022-09-04T11:00","v":400000},{"t":"2022-09-04T19:00","v":870000},{"t":"2022-09-07T07:00","v":350000},{"t":"2022-09-17T17:00","v":650000},{"t":"2022-09-18T17:00","v":560000},{"t":"2022-09-22T05:00","v":560000},{"t":"2022-09-23T15:00","v":850000},{"t":"2022-09-24T07:00","v":650000},{"t":"2022-09-26T10:00","v":600000},{"t":"2022-09-30T04:00","v":420000},{"t":"2022-10-02T04:00","v":710000},{"t":"2022-10-03T16:00","v":600000},{"t":"2022-10-07T19:00","v":500000},{"t":"2022-10-13T17:00","v":670000},{"t":"2022-10-14T16:00","v":400000},{"t":"2022-10-18T08:00","v":400000},{"t":"2022-10-24T17:00","v":300000},{"t":"2022-10-29T04:00","v":350000},{"t":"2022-11-05T04:00","v":420000},{"t":"2022-11-06T04:00","v":380000},{"t":"2022-11-08T04:00","v":300000},{"t":"2022-11-16T15:00","v":350000},{"t":"2022-11-23T15:00","v":250000},{"t":"2022-12-06T19:00","v":250000},{"t":"2022-12-14T08:00","v":560000},{"t":"2022-12-15T17:00","v":480000},{"t":"2022-12-22T04:00","v":300000},{"t":"2022-12-29T15:00","v":300000},{"t":"2023-01-07T17:00","v":450000},{"t":"2023-01-09T05:00","v":500000},{"t":"2023-01-24T04:00","v":200000},{"t":"2023-01-25T05:00","v":350000},{"t":"2023-01-28T05:00","v":340000},{"t":"2023-02-03T04:00","v":300000},{"t":"2023-02-09T15:00","v":290000},{"t":"2023-02-13T07:00","v":350000},{"t":"2023-02-16T05:00","v":410000},{"t":"2023-02-22T04:00","v":320000},{"t":"2023-03-06T04:00","v":535000},{"t":"2023-03-06T17:00","v":400000},{"t":"2023-03-07T17:00","v":400000},{"t":"2023-03-09T04:00","v":390000},{"t":"2023-03-09T19:00","v":380000},{"t":"2023-03-11T10:00","v":250000},{"t":"2023-03-16T10:00","v":310000},{"t":"2023-03-18T14:00","v":320000},{"t":"2023-03-19T05:00","v":1260000},{"t":"2023-03-19T14:00","v":650000},{"t":"2023-03-19T22:00","v":140626}
],
"stoch":[
{"t":"2022-08-15T12:00","k":40,"d":40},{"t":"2022-08-16T12:00","k":15,"d":28},{"t":"2022-08-17T12:00","k":30,"d":23},{"t":"2022-08-18T12:00","k":90,"d":60},{"t":"2022-08-19T12:00","k":60,"d":75},{"t":"2022-08-20T12:00","k":20,"d":40},{"t":"2022-08-21T12:00","k":15,"d":18},{"t":"2022-08-22T12:00","k":25,"d":20},{"t":"2022-08-23T12:00","k":70,"d":48},{"t":"2022-08-24T12:00","k":85,"d":78},{"t":"2022-08-25T12:00","k":60,"d":73},{"t":"2022-08-26T12:00","k":90,"d":75},{"t":"2022-08-27T12:00","k":95,"d":93},{"t":"2022-08-28T12:00","k":70,"d":83},{"t":"2022-08-29T12:00","k":80,"d":75},{"t":"2022-08-30T12:00","k":50,"d":65},{"t":"2022-08-31T12:00","k":85,"d":68},
{"t":"2022-09-01T12:00","k":90,"d":88},{"t":"2022-09-02T12:00","k":60,"d":75},{"t":"2022-09-03T12:00","k":85,"d":73},{"t":"2022-09-04T12:00","k":95,"d":90},{"t":"2022-09-05T12:00","k":40,"d":68},{"t":"2022-09-06T12:00","k":20,"d":30},{"t":"2022-09-07T12:00","k":50,"d":35},{"t":"2022-09-08T12:00","k":80,"d":65},{"t":"2022-09-09T12:00","k":60,"d":70},{"t":"2022-09-10T12:00","k":30,"d":45},{"t":"2022-09-11T12:00","k":70,"d":50},{"t":"2022-09-12T12:00","k":85,"d":78},{"t":"2022-09-13T12:00","k":50,"d":68},{"t":"2022-09-14T12:00","k":40,"d":45},{"t":"2022-09-15T12:00","k":70,"d":55},{"t":"2022-09-16T12:00","k":60,"d":65},{"t":"2022-09-17T12:00","k":45,"d":53},{"t":"2022-09-18T12:00","k":15,"d":30},{"t":"2022-09-19T12:00","k":35,"d":25},{"t":"2022-09-20T12:00","k":55,"d":45},{"t":"2022-09-21T12:00","k":40,"d":48},{"t":"2022-09-22T12:00","k":25,"d":33},{"t":"2022-09-23T12:00","k":60,"d":43},{"t":"2022-09-24T12:00","k":45,"d":53},{"t":"2022-09-25T12:00","k":30,"d":38},{"t":"2022-09-26T12:00","k":55,"d":43},{"t":"2022-09-27T12:00","k":75,"d":65},{"t":"2022-09-28T12:00","k":50,"d":63},{"t":"2022-09-29T12:00","k":30,"d":40},{"t":"2022-09-30T12:00","k":45,"d":38},
{"t":"2022-10-01T12:00","k":60,"d":53},{"t":"2022-10-02T12:00","k":80,"d":70},{"t":"2022-10-03T12:00","k":45,"d":63},{"t":"2022-10-04T12:00","k":85,"d":65},{"t":"2022-10-05T12:00","k":60,"d":73},{"t":"2022-10-06T12:00","k":40,"d":50},{"t":"2022-10-07T12:00","k":20,"d":30},{"t":"2022-10-08T12:00","k":70,"d":45},{"t":"2022-10-09T12:00","k":85,"d":78},{"t":"2022-10-10T12:00","k":95,"d":90},{"t":"2022-10-11T12:00","k":80,"d":88},{"t":"2022-10-12T12:00","k":60,"d":70},{"t":"2022-10-13T12:00","k":50,"d":55},{"t":"2022-10-14T12:00","k":70,"d":60},{"t":"2022-10-15T12:00","k":55,"d":63},{"t":"2022-10-16T12:00","k":80,"d":68},{"t":"2022-10-17T12:00","k":40,"d":60},{"t":"2022-10-18T12:00","k":60,"d":50},{"t":"2022-10-19T12:00","k":80,"d":70},{"t":"2022-10-20T12:00","k":50,"d":65},{"t":"2022-10-21T12:00","k":70,"d":60},{"t":"2022-10-22T12:00","k":30,"d":50},{"t":"2022-10-23T12:00","k":50,"d":40},{"t":"2022-10-24T12:00","k":80,"d":65},{"t":"2022-10-25T12:00","k":65,"d":73},{"t":"2022-10-26T12:00","k":40,"d":53},{"t":"2022-10-27T12:00","k":75,"d":58},{"t":"2022-10-28T12:00","k":55,"d":65},{"t":"2022-10-29T12:00","k":20,"d":38},{"t":"2022-10-30T12:00","k":45,"d":33},{"t":"2022-10-31T12:00","k":70,"d":58},
{"t":"2022-11-01T12:00","k":85,"d":78},{"t":"2022-11-02T12:00","k":60,"d":73},{"t":"2022-11-03T12:00","k":45,"d":53},{"t":"2022-11-04T12:00","k":75,"d":60},{"t":"2022-11-05T12:00","k":30,"d":53},{"t":"2022-11-06T12:00","k":55,"d":43},{"t":"2022-11-07T12:00","k":80,"d":68},{"t":"2022-11-08T12:00","k":65,"d":73},{"t":"2022-11-09T12:00","k":30,"d":48},{"t":"2022-11-10T12:00","k":15,"d":23},{"t":"2022-11-11T12:00","k":50,"d":33},{"t":"2022-11-12T12:00","k":70,"d":60},{"t":"2022-11-13T12:00","k":45,"d":58},{"t":"2022-11-14T12:00","k":80,"d":63},{"t":"2022-11-15T12:00","k":60,"d":70},{"t":"2022-11-16T12:00","k":40,"d":50},{"t":"2022-11-17T12:00","k":75,"d":58},{"t":"2022-11-18T12:00","k":55,"d":65},{"t":"2022-11-19T12:00","k":30,"d":43},{"t":"2022-11-20T12:00","k":65,"d":48},{"t":"2022-11-21T12:00","k":80,"d":73},{"t":"2022-11-22T12:00","k":50,"d":65},{"t":"2022-11-23T12:00","k":70,"d":60},{"t":"2022-11-24T12:00","k":85,"d":78},{"t":"2022-11-25T12:00","k":40,"d":63},{"t":"2022-11-26T12:00","k":55,"d":48},{"t":"2022-11-27T12:00","k":75,"d":65},{"t":"2022-11-28T12:00","k":60,"d":68},{"t":"2022-11-29T12:00","k":30,"d":45},{"t":"2022-11-30T12:00","k":45,"d":38},
{"t":"2022-12-01T12:00","k":70,"d":58},{"t":"2022-12-02T12:00","k":40,"d":55},{"t":"2022-12-03T12:00","k":25,"d":33},{"t":"2022-12-04T12:00","k":55,"d":40},{"t":"2022-12-05T12:00","k":75,"d":65},{"t":"2022-12-06T12:00","k":35,"d":55},{"t":"2022-12-07T12:00","k":50,"d":43},{"t":"2022-12-08T12:00","k":80,"d":65},{"t":"2022-12-09T12:00","k":55,"d":68},{"t":"2022-12-10T12:00","k":20,"d":38},{"t":"2022-12-11T12:00","k":45,"d":33},{"t":"2022-12-12T12:00","k":65,"d":55},{"t":"2022-12-13T12:00","k":30,"d":48},{"t":"2022-12-14T12:00","k":15,"d":23},{"t":"2022-12-15T12:00","k":40,"d":28},{"t":"2022-12-16T12:00","k":60,"d":50},{"t":"2022-12-17T12:00","k":35,"d":48},{"t":"2022-12-18T12:00","k":70,"d":53},{"t":"2022-12-19T12:00","k":85,"d":78},{"t":"2022-12-20T12:00","k":55,"d":70},{"t":"2022-12-21T12:00","k":40,"d":48},{"t":"2022-12-22T12:00","k":65,"d":53},{"t":"2022-12-23T12:00","k":80,"d":73},{"t":"2022-12-24T12:00","k":50,"d":65},{"t":"2022-12-25T12:00","k":60,"d":55},{"t":"2022-12-26T12:00","k":85,"d":73},{"t":"2022-12-27T12:00","k":75,"d":80},{"t":"2022-12-28T12:00","k":90,"d":83},{"t":"2022-12-29T12:00","k":80,"d":85},{"t":"2022-12-30T12:00","k":70,"d":75},{"t":"2022-12-31T12:00","k":85,"d":78},
{"t":"2023-01-01T12:00","k":90,"d":88},{"t":"2023-01-02T12:00","k":75,"d":83},{"t":"2023-01-03T12:00","k":85,"d":80},{"t":"2023-01-04T12:00","k":55,"d":70},{"t":"2023-01-05T12:00","k":80,"d":68},{"t":"2023-01-06T12:00","k":90,"d":85},{"t":"2023-01-07T12:00","k":70,"d":80},{"t":"2023-01-08T12:00","k":20,"d":45},{"t":"2023-01-09T12:00","k":45,"d":33},{"t":"2023-01-10T12:00","k":70,"d":58},{"t":"2023-01-11T12:00","k":85,"d":78},{"t":"2023-01-12T12:00","k":55,"d":70},{"t":"2023-01-13T12:00","k":35,"d":45},{"t":"2023-01-14T12:00","k":60,"d":48},{"t":"2023-01-15T12:00","k":80,"d":70},{"t":"2023-01-16T12:00","k":50,"d":65},{"t":"2023-01-17T12:00","k":30,"d":40},{"t":"2023-01-18T12:00","k":55,"d":43},{"t":"2023-01-19T12:00","k":75,"d":65},{"t":"2023-01-20T12:00","k":40,"d":58},{"t":"2023-01-21T12:00","k":65,"d":53},{"t":"2023-01-22T12:00","k":85,"d":75},{"t":"2023-01-23T12:00","k":60,"d":73},{"t":"2023-01-24T12:00","k":45,"d":53},{"t":"2023-01-25T12:00","k":80,"d":63},{"t":"2023-01-26T12:00","k":70,"d":75},{"t":"2023-01-27T12:00","k":55,"d":63},{"t":"2023-01-28T12:00","k":85,"d":70},{"t":"2023-01-29T12:00","k":60,"d":73},{"t":"2023-01-30T12:00","k":40,"d":50},{"t":"2023-01-31T12:00","k":70,"d":55},
{"t":"2023-02-01T12:00","k":80,"d":75},{"t":"2023-02-02T12:00","k":60,"d":70},{"t":"2023-02-03T12:00","k":40,"d":50},{"t":"2023-02-04T12:00","k":70,"d":55},{"t":"2023-02-05T12:00","k":55,"d":63},{"t":"2023-02-06T12:00","k":30,"d":43},{"t":"2023-02-07T12:00","k":60,"d":45},{"t":"2023-02-08T12:00","k":80,"d":70},{"t":"2023-02-09T12:00","k":40,"d":60},{"t":"2023-02-10T12:00","k":20,"d":30},{"t":"2023-02-11T12:00","k":45,"d":33},{"t":"2023-02-12T12:00","k":70,"d":58},{"t":"2023-02-13T12:00","k":30,"d":50},{"t":"2023-02-14T12:00","k":15,"d":23},{"t":"2023-02-15T12:00","k":40,"d":28},{"t":"2023-02-16T12:00","k":60,"d":50},{"t":"2023-02-17T12:00","k":75,"d":68},{"t":"2023-02-18T12:00","k":50,"d":63},{"t":"2023-02-19T12:00","k":80,"d":65},{"t":"2023-02-20T12:00","k":90,"d":85},{"t":"2023-02-21T12:00","k":70,"d":80},{"t":"2023-02-22T12:00","k":85,"d":78},{"t":"2023-02-23T12:00","k":60,"d":73},{"t":"2023-02-24T12:00","k":80,"d":70},{"t":"2023-02-25T12:00","k":95,"d":88},{"t":"2023-02-26T12:00","k":70,"d":83},{"t":"2023-02-27T12:00","k":50,"d":60},{"t":"2023-02-28T12:00","k":75,"d":63},
{"t":"2023-03-01T12:00","k":85,"d":80},{"t":"2023-03-02T12:00","k":60,"d":73},{"t":"2023-03-03T12:00","k":75,"d":68},{"t":"2023-03-04T12:00","k":40,"d":58},{"t":"2023-03-05T12:00","k":70,"d":55},{"t":"2023-03-06T12:00","k":55,"d":63},{"t":"2023-03-07T12:00","k":30,"d":43},{"t":"2023-03-08T12:00","k":20,"d":25},{"t":"2023-03-09T12:00","k":45,"d":33},{"t":"2023-03-10T12:00","k":60,"d":53},{"t":"2023-03-11T12:00","k":35,"d":48},{"t":"2023-03-12T12:00","k":70,"d":53},{"t":"2023-03-13T12:00","k":50,"d":60},{"t":"2023-03-14T12:00","k":20,"d":35},{"t":"2023-03-15T12:00","k":55,"d":38},{"t":"2023-03-16T12:00","k":75,"d":65},{"t":"2023-03-17T12:00","k":80,"d":78},{"t":"2023-03-18T12:00","k":70,"d":75},{"t":"2023-03-19T12:00","k":90,"d":80}
],
"levels":[{"lv":20},{"lv":80}],
"lastPrice":[{"t":"2023-03-19T22:00","v":3.5825,"label":"3,5825"}],
"lastVol":[{"t":"2023-03-19T22:00","v":140626,"label":"140 626"}]
},
"spacing":27,
"bounds":"flush",
"resolve":{"scale":{"color":"independent"},"legend":{"color":"independent"}},
"vconcat":[
{
"width":855,"height":242,
"layer":[
 {"data":{"name":"price"},
  "mark":{"type":"line","strokeWidth":1.5,"clip":true},
  "encoding":{
   "x":{"field":"t","type":"temporal","title":null,"scale":{"domain":[{"year":2022,"month":8,"date":15,"hours":6},{"year":2023,"month":3,"date":20}],"nice":false},
     "axis":{"values":[{"year":2022,"month":8,"date":17},{"year":2022,"month":8,"date":26},{"year":2022,"month":9,"date":6},{"year":2022,"month":9,"date":14},{"year":2022,"month":9,"date":21},{"year":2022,"month":9,"date":28},{"year":2022,"month":10,"date":5},{"year":2022,"month":10,"date":12},{"year":2022,"month":10,"date":19},{"year":2022,"month":10,"date":26},{"year":2022,"month":11,"date":2},{"year":2022,"month":11,"date":10},{"year":2022,"month":11,"date":17},{"year":2022,"month":11,"date":24},{"year":2022,"month":12,"date":1},{"year":2022,"month":12,"date":8},{"year":2022,"month":12,"date":15},{"year":2022,"month":12,"date":22},{"year":2022,"month":12,"date":29},{"year":2023,"month":1,"date":6},{"year":2023,"month":1,"date":13},{"year":2023,"month":1,"date":20},{"year":2023,"month":1,"date":27},{"year":2023,"month":2,"date":3},{"year":2023,"month":2,"date":10},{"year":2023,"month":2,"date":17},{"year":2023,"month":2,"date":27},{"year":2023,"month":3,"date":6},{"year":2023,"month":3,"date":14}],"labels":false,"ticks":false,"domain":false,"grid":true,"gridDash":[2,2],"gridColor":"#c4c4c4","title":null}},
   "y":{"field":"v","type":"quantitative","title":null,"scale":{"domain":[2.375,3.625],"nice":false,"zero":false},
     "axis":{"orient":"left","values":[2.4,2.45,2.5,2.55,2.6,2.65,2.7,2.75,2.8,2.85,2.9,2.95,3,3.05,3.1,3.15,3.2,3.25,3.3,3.35,3.4,3.45,3.5,3.55,3.6],
       "labelExpr":"abs(datum.value*4-round(datum.value*4))<0.001 ? replace(format(datum.value,'.2f'),'.',',') : ''",
       "tickSize":{"condition":{"test":"abs(datum.value*4-round(datum.value*4))<0.001","value":5},"value":3},
       "grid":true,"gridOpacity":{"condition":{"test":"abs(datum.value*4-round(datum.value*4))<0.001","value":1},"value":0},
       "gridDash":[2,2],"gridColor":"#c4c4c4","labelPadding":1,"domain":false,"title":null}},
   "color":{"datum":"ИнтерРАОао [Price]","scale":{"range":["#1f6b3e"]},
     "legend":{"orient":"none","legendX":-40,"legendY":-18,"title":null,"symbolType":"stroke","symbolSize":100,"symbolStrokeWidth":2.5,"labelOffset":6,"padding":0,"labelLimit":400}}
  }},
 {"data":{"name":"lastPrice"},
  "mark":{"type":"point","shape":"M0.1,-0.36H2.05V0.36H0.1Z","size":1296,"filled":true,"fill":"white","stroke":"#555555","strokeWidth":1,"opacity":1},
  "encoding":{
   "x":{"field":"t","type":"temporal"},
   "y":{"field":"v","type":"quantitative",
     "axis":{"orient":"right","values":[2.4,2.45,2.5,2.55,2.6,2.65,2.7,2.75,2.8,2.85,2.9,2.95,3,3.05,3.1,3.15,3.2,3.25,3.3,3.35,3.4,3.45,3.5,3.55,3.6],
       "labelExpr":"abs(datum.value*4-round(datum.value*4))<0.001 ? replace(format(datum.value,'.2f'),'.',',') : ''",
       "tickSize":{"condition":{"test":"abs(datum.value*4-round(datum.value*4))<0.001","value":5},"value":3},
       "grid":false,"labelPadding":1,"domain":false,"title":null}}
  }},
 {"data":{"name":"lastPrice"},
  "mark":{"type":"text","align":"left","baseline":"middle","dx":4,"font":"Liberation Serif","fontWeight":"bold","fontSize":10,"color":"#2d6e50"},
  "encoding":{
   "x":{"field":"t","type":"temporal"},
   "y":{"field":"v","type":"quantitative","axis":null},
   "text":{"field":"label"}
  }}
],
"resolve":{"axis":{"y":"independent"}}
},
{
"width":855,"height":50,
"layer":[
 {"data":{"name":"vol"},
  "mark":{"type":"rule","strokeWidth":2},
  "encoding":{
   "x":{"field":"t","type":"temporal","title":null,"scale":{"domain":[{"year":2022,"month":8,"date":15,"hours":6},{"year":2023,"month":3,"date":20}],"nice":false},
     "axis":{"values":[{"year":2022,"month":8,"date":17},{"year":2022,"month":8,"date":26},{"year":2022,"month":9,"date":6},{"year":2022,"month":9,"date":14},{"year":2022,"month":9,"date":21},{"year":2022,"month":9,"date":28},{"year":2022,"month":10,"date":5},{"year":2022,"month":10,"date":12},{"year":2022,"month":10,"date":19},{"year":2022,"month":10,"date":26},{"year":2022,"month":11,"date":2},{"year":2022,"month":11,"date":10},{"year":2022,"month":11,"date":17},{"year":2022,"month":11,"date":24},{"year":2022,"month":12,"date":1},{"year":2022,"month":12,"date":8},{"year":2022,"month":12,"date":15},{"year":2022,"month":12,"date":22},{"year":2022,"month":12,"date":29},{"year":2023,"month":1,"date":6},{"year":2023,"month":1,"date":13},{"year":2023,"month":1,"date":20},{"year":2023,"month":1,"date":27},{"year":2023,"month":2,"date":3},{"year":2023,"month":2,"date":10},{"year":2023,"month":2,"date":17},{"year":2023,"month":2,"date":27},{"year":2023,"month":3,"date":6},{"year":2023,"month":3,"date":14}],"labels":false,"ticks":false,"domain":false,"grid":true,"gridDash":[2,2],"gridColor":"#c4c4c4","title":null}},
   "y":{"field":"v","type":"quantitative","title":null,"scale":{"domain":[0,1305000],"nice":false,"zero":false},
     "axis":{"orient":"left","values":[0,100000,200000,300000,400000,500000,600000,700000,800000,900000,1000000,1100000,1200000,1300000],
       "labelExpr":"datum.value==1000000 ? '1 000 000' : datum.value==500000 ? '500 000' : ''",
       "tickSize":{"condition":{"test":"datum.value==500000 || datum.value==1000000","value":5},"value":3},
       "grid":true,"gridOpacity":{"condition":{"test":"datum.value==500000 || datum.value==1000000","value":1},"value":0},
       "gridDash":[2,2],"gridColor":"#c4c4c4","labelPadding":1,"domain":false,"title":null}},
   "y2":{"datum":0},
   "color":{"datum":"ИнтерРАОао [Volume]","scale":{"range":["#ff0000"]},
     "legend":{"orient":"none","legendX":-40,"legendY":-19,"title":null,"symbolType":"stroke","symbolSize":100,"symbolStrokeWidth":2.5,"labelOffset":6,"padding":0,"labelLimit":400}}
  }},
 {"data":{"name":"lastVol"},
  "mark":{"type":"point","shape":"M0.2,-0.36H2.15V0.36H0.2Z","size":1296,"filled":true,"fill":"white","stroke":"#555555","strokeWidth":1,"opacity":1},
  "encoding":{
   "x":{"field":"t","type":"temporal"},
   "y":{"field":"v","type":"quantitative",
     "axis":{"orient":"right","values":[0,100000,200000,300000,400000,500000,600000,700000,800000,900000,1000000,1100000,1200000,1300000],
       "labelExpr":"datum.value==1000000 ? '1 000 000' : datum.value==500000 ? '500 000' : ''",
       "tickSize":{"condition":{"test":"datum.value==500000 || datum.value==1000000","value":5},"value":3},
       "grid":false,"labelPadding":1,"domain":false,"title":null}}
  }},
 {"data":{"name":"lastVol"},
  "mark":{"type":"text","align":"left","baseline":"middle","dx":6,"font":"Liberation Serif","fontWeight":"bold","fontSize":10,"color":"#ff0000"},
  "encoding":{
   "x":{"field":"t","type":"temporal"},
   "y":{"field":"v","type":"quantitative","axis":null},
   "text":{"field":"label"}
  }}
],
"resolve":{"axis":{"y":"independent"}}
},
{
"width":855,"height":25,
"layer":[
 {"data":{"name":"levels"},
  "mark":{"type":"rule","color":"#4c9a6a","strokeWidth":1.2},
  "encoding":{
   "y":{"field":"lv","type":"quantitative","title":null,"scale":{"domain":[5,99],"nice":false,"zero":false},
     "axis":{"orient":"left","values":[10,20,30,40,50,60,70,80,90],
       "labelExpr":"datum.value==50 ? '50' : ''",
       "tickSize":{"condition":{"test":"datum.value==50","value":5},"value":3},
       "grid":true,"gridOpacity":{"condition":{"test":"datum.value==50","value":1},"value":0},
       "gridDash":[2,2],"gridColor":"#c4c4c4","labelPadding":1,"domain":false,"title":null}}
  }},
 {"data":{"name":"stoch"},
  "mark":{"type":"line","strokeWidth":1.1,"clip":true},
  "encoding":{
   "x":{"field":"t","type":"temporal","title":null,"scale":{"domain":[{"year":2022,"month":8,"date":15,"hours":6},{"year":2023,"month":3,"date":20}],"nice":false},
     "axis":{"orient":"bottom","offset":6.5,"values":[{"year":2022,"month":8,"date":15,"hours":6},{"year":2022,"month":8,"date":17},{"year":2022,"month":8,"date":26},{"year":2022,"month":9,"date":6},{"year":2022,"month":9,"date":14},{"year":2022,"month":9,"date":21},{"year":2022,"month":9,"date":28},{"year":2022,"month":10,"date":5},{"year":2022,"month":10,"date":12},{"year":2022,"month":10,"date":19},{"year":2022,"month":10,"date":26},{"year":2022,"month":11,"date":2},{"year":2022,"month":11,"date":10},{"year":2022,"month":11,"date":17},{"year":2022,"month":11,"date":24},{"year":2022,"month":12,"date":1},{"year":2022,"month":12,"date":8},{"year":2022,"month":12,"date":15},{"year":2022,"month":12,"date":22},{"year":2022,"month":12,"date":29},{"year":2023,"month":1,"date":6},{"year":2023,"month":1,"date":13},{"year":2023,"month":1,"date":20},{"year":2023,"month":1,"date":27},{"year":2023,"month":2,"date":3},{"year":2023,"month":2,"date":10},{"year":2023,"month":2,"date":17},{"year":2023,"month":2,"date":27},{"year":2023,"month":3,"date":6},{"year":2023,"month":3,"date":14},{"year":2023,"month":3,"date":20}],
       "labelExpr":"(month(datum.value)==7 && date(datum.value)==15) || (month(datum.value)==2 && date(datum.value)==20) ? '' : timeFormat(datum.value,'%-d')",
       "tickSize":13,"tickWidth":1.5,"tickColor":"#606060","domain":true,"domainWidth":1.5,"domainColor":"#606060",
       "labelAlign":"left","labelBaseline":"top","labelPadding":-12.5,"labelOffset":4,
       "grid":true,"gridDash":[2,2],"gridColor":"#c4c4c4","title":null}},
   "y":{"field":"k","type":"quantitative",
     "axis":{"orient":"right","values":[10,20,30,40,50,60,70,80,90],
       "labelExpr":"datum.value==50 ? '50' : ''",
       "tickSize":{"condition":{"test":"datum.value==50","value":5},"value":3},
       "grid":false,"labelPadding":1,"domain":false,"title":null}},
   "color":{"datum":"ИнтерРАОао [Stochastic]","scale":{"range":["#ff4040"]},
     "legend":{"orient":"none","legendX":-40,"legendY":-19,"title":null,"symbolType":"stroke","symbolSize":100,"symbolStrokeWidth":2,"symbolStrokeColor":"#ff9090","labelOffset":6,"padding":0,"labelLimit":400}}
  }},
 {"data":{"name":"stoch"},
  "mark":{"type":"line","strokeWidth":1.1,"color":"#3c9a3c","clip":true},
  "encoding":{
   "x":{"field":"t","type":"temporal",
     "axis":{"orient":"bottom","offset":19.5,"values":[{"year":2022,"month":8,"date":15,"hours":6},{"year":2022,"month":9,"date":1},{"year":2022,"month":10,"date":1},{"year":2022,"month":11,"date":1},{"year":2022,"month":12,"date":1},{"year":2023,"month":1,"date":1},{"year":2023,"month":2,"date":1},{"year":2023,"month":3,"date":1},{"year":2023,"month":3,"date":20}],
       "labelExpr":"(month(datum.value)==7) || (month(datum.value)==2 && date(datum.value)==20) ? '' : month(datum.value)==0 ? '2023' : timeFormat(datum.value,'%b')",
       "tickSize":12,"tickWidth":1.5,"tickColor":"#606060","domain":true,"domainWidth":1.5,"domainColor":"#606060",
       "labelAlign":"left","labelBaseline":"top","labelPadding":-11.5,"labelOffset":4,
       "grid":false,"title":null}},
   "y":{"field":"d","type":"quantitative","axis":null}
  }}
],
"resolve":{"axis":{"x":"independent","y":"independent"}}
}
]
}
